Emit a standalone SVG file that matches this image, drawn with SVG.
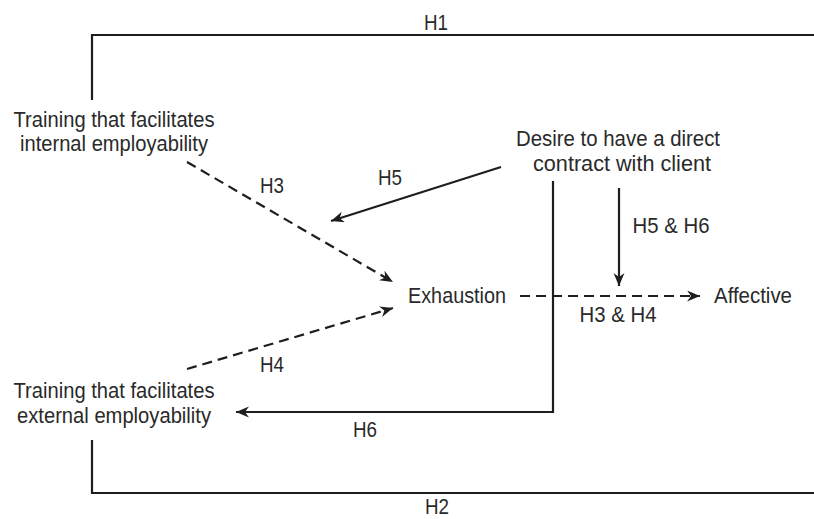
<svg xmlns="http://www.w3.org/2000/svg" width="814" height="519" viewBox="0 0 814 519">
<style>
text{font-family:"Liberation Sans",Arial,sans-serif;font-size:21.5px;fill:#2a2a2a;text-anchor:middle}
.ln{fill:none;stroke:#1e1e1e;stroke-width:2.2}
.ds{stroke-dasharray:10 6}
</style>
<defs>
<marker id="ah" markerUnits="userSpaceOnUse" markerWidth="15" markerHeight="12" refX="13" refY="5.5" orient="auto">
<path d="M0,0 L13,5.5 L0,11 L4,5.5 z" fill="#1e1e1e"/>
</marker>
</defs>
<rect width="814" height="519" fill="#fff"/>
<g id="connectors">
<path class="ln" d="M92,100 V35 H814"/>
<text x="436" y="30" textLength="24" lengthAdjust="spacingAndGlyphs">H1</text>
<path class="ln" d="M92,440 V493 H814"/>
<text x="437" y="514" textLength="24" lengthAdjust="spacingAndGlyphs">H2</text>
<path class="ln ds" d="M187,162 L393,282" marker-end="url(#ah)"/>
<text x="272" y="193" textLength="24" lengthAdjust="spacingAndGlyphs">H3</text>
<path class="ln ds" d="M187,369 L393,308" marker-end="url(#ah)"/>
<text x="272" y="372" textLength="24" lengthAdjust="spacingAndGlyphs">H4</text>
<path class="ln" d="M501,167 L331,221" marker-end="url(#ah)"/>
<text x="390" y="185" textLength="24" lengthAdjust="spacingAndGlyphs">H5</text>
<path class="ln" d="M553,181 V412 H236" marker-end="url(#ah)"/>
<text x="365" y="437" textLength="24" lengthAdjust="spacingAndGlyphs">H6</text>
<path class="ln" d="M619,188 V286" marker-end="url(#ah)"/>
<text x="671" y="233" textLength="77" lengthAdjust="spacingAndGlyphs">H5 &amp; H6</text>
<path class="ln ds" d="M520,296 H700" marker-end="url(#ah)"/>
<text x="618" y="322" textLength="77" lengthAdjust="spacingAndGlyphs">H3 &amp; H4</text>
</g>
<g id="internal">
<text x="114" y="127" textLength="201" lengthAdjust="spacingAndGlyphs">Training that facilitates</text>
<text x="114" y="151" textLength="188" lengthAdjust="spacingAndGlyphs">internal employability</text>
</g>
<g id="external">
<text x="114" y="398" textLength="201" lengthAdjust="spacingAndGlyphs">Training that facilitates</text>
<text x="114" y="423" textLength="194" lengthAdjust="spacingAndGlyphs">external employability</text>
</g>
<g id="desire">
<text x="618" y="146" textLength="204" lengthAdjust="spacingAndGlyphs">Desire to have a direct</text>
<text x="622" y="171" textLength="178" lengthAdjust="spacingAndGlyphs">contract with client</text>
</g>
<g id="exhaustion">
<text x="457" y="303" textLength="98" lengthAdjust="spacingAndGlyphs">Exhaustion</text>
</g>
<g id="affective">
<text x="753" y="303" textLength="78" lengthAdjust="spacingAndGlyphs">Affective</text>
</g>
</svg>
